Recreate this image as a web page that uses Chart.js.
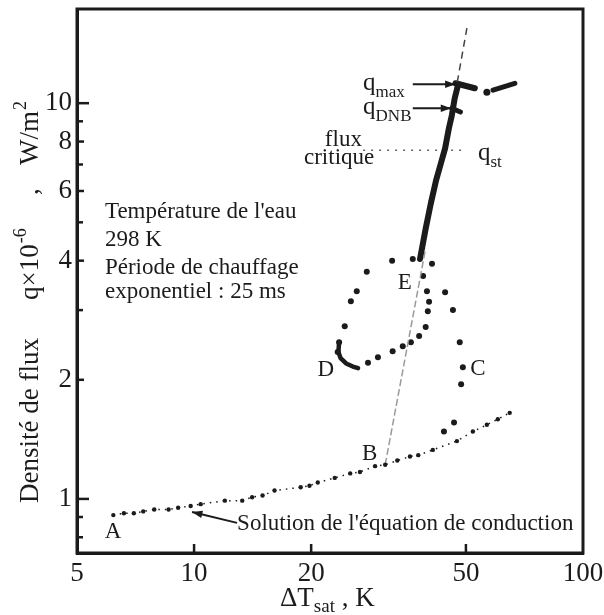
<!DOCTYPE html>
<html>
<head>
<meta charset="utf-8">
<script src="https://cdn.jsdelivr.net/npm/chart.js@4.4.1/dist/chart.umd.min.js"></script>
<style>
html, body { margin: 0; padding: 0; background: #fff; }
#c { display: block; }
</style>
</head>
<body>
<canvas id="c" width="604" height="615"></canvas>
<script>
// axes (log-log) : ΔTsat en K, q x 1e-6 en W/m2
var xTicks = [5, 10, 20, 50, 100];
var yTicks = [1, 2, 4, 6, 8, 10];
var yMinor = [0.8, 0.9, 3, 5, 7, 9];

// solution de l'equation de conduction (A -> ...)
var condX = [6.2, 6.6, 7.0, 7.4, 7.9, 8.6, 9.1, 9.8, 10.4, 12.0, 13.3, 14.1, 15.0, 16.1, 18.8, 19.8, 20.8, 23.0, 25.2, 26.7, 29.2, 31.0, 33.3, 35.9, 37.7, 41.1, 47.4, 52.1, 56.6, 60.4, 64.8];
var condY = [0.91, 0.92, 0.92, 0.93, 0.94, 0.94, 0.95, 0.96, 0.97, 0.99, 0.99, 1.01, 1.02, 1.05, 1.07, 1.08, 1.10, 1.13, 1.16, 1.17, 1.21, 1.22, 1.25, 1.28, 1.29, 1.33, 1.40, 1.48, 1.54, 1.59, 1.65];

// droite B -> haut
var riseX = [31.0, 39.4];
var riseY = [1.22, 4.3];
var tailX = [47.5, 50.3];
var tailY = [11.3, 15.5];

// trace epais E -> qmax
var thickX = [38.1, 39.4, 40.6, 41.9, 43.1, 44.2, 45.2, 46.0, 46.8, 47.7];
var thickY = [4.04, 4.82, 5.57, 6.38, 7.04, 7.69, 8.64, 9.32, 10.3, 11.1];

// plateau qmax et qDNB
var qmaxX = [47.0, 52.7];
var qmaxY = [11.23, 10.91];
var dnbX = [46.0, 48.4];
var dnbY = [9.71, 9.5];

// apres le saut
var jumpX = [56.6];
var jumpY = [10.66];
var filmX = [58.7, 66.8];
var filmY = [10.79, 11.23];

// boucle E - D - C
var loopX = [32.3, 27.8, 26.2, 25.3, 24.4, 23.6, 23.4, 28.0, 29.7, 32.4, 34.4, 36.1, 37.9, 39.4, 39.9, 40.2, 39.7, 38.8, 36.5, 40.9, 44.2, 46.3, 48.2, 49.1, 48.6, 46.6, 43.9];
var loopY = [4.00, 3.75, 3.35, 3.16, 2.73, 2.49, 2.35, 2.21, 2.28, 2.36, 2.43, 2.49, 2.58, 2.72, 2.98, 3.15, 3.35, 3.66, 4.04, 3.93, 3.33, 3.00, 2.49, 2.15, 1.95, 1.56, 1.48];
var dX = [23.6, 23.5, 23.8, 24.6, 25.6, 26.4];
var dY = [2.49, 2.35, 2.27, 2.20, 2.16, 2.14];

// flux critique q_st
var stX = [27.2, 50.3];
var stY = [7.6, 7.6];

var INK = '#1b1b1b';
var SERIF = "'Liberation Serif', 'DejaVu Serif', serif";

function pts(xs, ys) {
    return xs.map(function (x, i) { return { x: x, y: ys[i] }; });
}

// textes places en coordonnees de donnees
var notes = [
    { t: 'A', x: 6.19, y: 0.797, align: 'center' },
    { t: 'B', x: 28.3, y: 1.254, align: 'center' },
    { t: 'C', x: 53.7, y: 2.056, align: 'center' },
    { t: 'D', x: 21.8, y: 2.045, align: 'center' },
    { t: 'E', x: 34.8, y: 3.39, align: 'center' },
    { t: 'flux', x: 24.2, y: 7.79, align: 'center' },
    { t: 'critique', x: 23.6, y: 7.01, align: 'center' },
    { t: 'Température de l\'eau', x: 5.9, y: 5.13, align: 'left' },
    { t: '298 K', x: 5.9, y: 4.35, align: 'left' },
    { t: 'Période de chauffage', x: 5.9, y: 3.70, align: 'left' },
    { t: 'exponentiel : 25 ms', x: 5.9, y: 3.22, align: 'left' },
    { t: 'Solution de l\'équation de conduction', x: 12.9, y: 0.835, align: 'left' }
];
var subNotes = [
    { t: 'q', s: 'max', x: 27.2, y: 10.79 },
    { t: 'q', s: 'DNB', x: 27.2, y: 9.38 },
    { t: 'q', s: 'st', x: 53.7, y: 7.18 }
];
var arrows = [
    { x0: 36.5, y0: 11.17, x1: 47.0, y1: 11.17 },
    { x0: 36.5, y0: 9.71, x1: 45.8, y1: 9.71 },
    { x0: 12.9, y0: 0.87, x1: 9.88, y1: 0.927 }
];

var decor = {
    id: 'decor',
    afterDraw: function (chart) {
        var ctx = chart.ctx, a = chart.chartArea;
        var xs = chart.scales.x, ys = chart.scales.y;
        ctx.save();
        ctx.strokeStyle = INK;
        ctx.fillStyle = INK;

        // cadre
        ctx.lineWidth = 3;
        ctx.strokeRect(a.left, a.top, a.right - a.left, a.bottom - a.top);

        // graduations vers l'interieur
        ctx.lineWidth = 2.5;
        yTicks.forEach(function (v) {
            var p = ys.getPixelForValue(v);
            var len = (v === 1 || v === 10) ? 12 : 7;
            ctx.beginPath(); ctx.moveTo(a.left, p); ctx.lineTo(a.left + len, p); ctx.stroke();
        });
        yMinor.forEach(function (v) {
            var p = ys.getPixelForValue(v);
            ctx.beginPath(); ctx.moveTo(a.left, p); ctx.lineTo(a.left + 6, p); ctx.stroke();
        });
        xTicks.slice(1, -1).forEach(function (v) {
            var p = xs.getPixelForValue(v);
            ctx.beginPath(); ctx.moveTo(p, a.bottom); ctx.lineTo(p, a.bottom - 9); ctx.stroke();
        });

        // fleches
        ctx.lineWidth = 2;
        arrows.forEach(function (r) {
            var x0 = xs.getPixelForValue(r.x0), y0 = ys.getPixelForValue(r.y0);
            var x1 = xs.getPixelForValue(r.x1), y1 = ys.getPixelForValue(r.y1);
            var ang = Math.atan2(y1 - y0, x1 - x0);
            ctx.beginPath(); ctx.moveTo(x0, y0); ctx.lineTo(x1, y1); ctx.stroke();
            ctx.beginPath();
            ctx.moveTo(x1, y1);
            ctx.lineTo(x1 - 11 * Math.cos(ang - 0.35), y1 - 11 * Math.sin(ang - 0.35));
            ctx.lineTo(x1 - 11 * Math.cos(ang + 0.35), y1 - 11 * Math.sin(ang + 0.35));
            ctx.closePath(); ctx.fill();
        });

        // textes
        ctx.font = '23px ' + SERIF;
        ctx.textBaseline = 'alphabetic';
        notes.forEach(function (n) {
            ctx.textAlign = n.align;
            ctx.fillText(n.t, xs.getPixelForValue(n.x), ys.getPixelForValue(n.y));
        });
        ctx.textAlign = 'left';
        subNotes.forEach(function (n) {
            var px = xs.getPixelForValue(n.x), py = ys.getPixelForValue(n.y);
            ctx.font = '25px ' + SERIF;
            ctx.fillText(n.t, px, py);
            var w = ctx.measureText(n.t).width;
            ctx.font = '17px ' + SERIF;
            ctx.fillText(n.s, px + w, py + 7);
        });

        // titre axe x : ΔTsat , K
        var tx = 280, ty = 606;
        ctx.font = '27px ' + SERIF;
        ctx.fillText('ΔT', tx, ty);
        tx += ctx.measureText('ΔT').width;
        ctx.font = '19px ' + SERIF;
        ctx.fillText('sat', tx, ty + 6);
        tx += ctx.measureText('sat').width;
        ctx.font = '27px ' + SERIF;
        ctx.fillText(' , K', tx, ty);

        // titre axe y : Densite de flux  q x 10^-6 , W/m2
        ctx.translate(38, 503);
        ctx.rotate(-Math.PI / 2);
        ctx.font = '27px ' + SERIF;
        ctx.fillText('Densité de flux', 0, 0);
        ctx.fillText('q×10', 203, 0);
        var w1 = ctx.measureText('q×10').width;
        ctx.font = '18px ' + SERIF;
        ctx.fillText('-6', 203 + w1 + 1, -12);
        ctx.font = '27px ' + SERIF;
        ctx.fillText(',', 308, 0);
        ctx.fillText('W/m', 338, 0);
        var w2 = ctx.measureText('W/m').width;
        ctx.font = '18px ' + SERIF;
        ctx.fillText('2', 338 + w2 + 1, -12);
        ctx.restore();
    }
};

var chart = new Chart(document.getElementById('c'), {
    type: 'scatter',
    data: {
        datasets: [
            { data: pts(condX, condY), showLine: true, borderColor: INK, borderWidth: 1.5, borderDash: [1.5, 5], pointRadius: 2.2, pointBackgroundColor: INK, pointBorderWidth: 0 },
            { data: pts(riseX, riseY), showLine: true, borderColor: '#9a9a9a', borderWidth: 1.5, borderDash: [7, 3], pointRadius: 0 },
            { data: pts(tailX, tailY), showLine: true, borderColor: '#444', borderWidth: 1.5, borderDash: [7, 5], pointRadius: 0 },
            { data: pts(thickX, thickY), showLine: true, borderColor: INK, borderWidth: 6, pointRadius: 0, borderCapStyle: 'round', borderJoinStyle: 'round' },
            { data: pts(qmaxX, qmaxY), showLine: true, borderColor: INK, borderWidth: 6, pointRadius: 0, borderCapStyle: 'round' },
            { data: pts(dnbX, dnbY), showLine: true, borderColor: INK, borderWidth: 5, pointRadius: 0, borderCapStyle: 'round' },
            { data: pts(jumpX, jumpY), pointRadius: 3.5, pointBackgroundColor: INK, pointBorderWidth: 0 },
            { data: pts(filmX, filmY), showLine: true, borderColor: INK, borderWidth: 5, pointRadius: 0, borderCapStyle: 'round' },
            { data: pts(loopX, loopY), pointRadius: 3, pointBackgroundColor: INK, pointBorderWidth: 0 },
            { data: pts(dX, dY), showLine: true, borderColor: INK, borderWidth: 4.5, pointRadius: 0, borderCapStyle: 'round', borderJoinStyle: 'round' },
            { data: pts(stX, stY), showLine: true, borderColor: '#666', borderWidth: 1.5, borderDash: [2, 6], pointRadius: 0 }
        ]
    },
    options: {
        responsive: false,
        animation: false,
        devicePixelRatio: 1,
        layout: { padding: { top: 9, right: 21, left: 0, bottom: 0 } },
        plugins: { legend: { display: false }, tooltip: { enabled: false } },
        scales: {
            x: {
                type: 'logarithmic', min: 5, max: 100, bounds: 'data',
                afterBuildTicks: function (s) { s.ticks = xTicks.map(function (v) { return { value: v }; }); },
                afterFit: function (s) { s.height = 62; s.paddingLeft = 0; s.paddingRight = 0; },
                ticks: { autoSkip: false, maxRotation: 0, padding: 5, color: INK, font: { family: SERIF, size: 27 }, callback: function (v) { return String(v); } },
                grid: { display: false, drawTicks: false },
                border: { display: true, color: INK, width: 3 }
            },
            y: {
                type: 'logarithmic', min: 0.73, max: 17.3, bounds: 'data',
                afterBuildTicks: function (s) { s.ticks = yTicks.map(function (v) { return { value: v }; }); },
                afterFit: function (s) { s.width = 77; s.paddingTop = 0; s.paddingBottom = 0; },
                ticks: { autoSkip: false, padding: 5, color: INK, font: { family: SERIF, size: 27 }, callback: function (v) { return String(v); } },
                grid: { display: false, drawTicks: false },
                border: { display: true, color: INK, width: 3 }
            }
        }
    },
    plugins: [decor]
});
</script>
</body>
</html>
